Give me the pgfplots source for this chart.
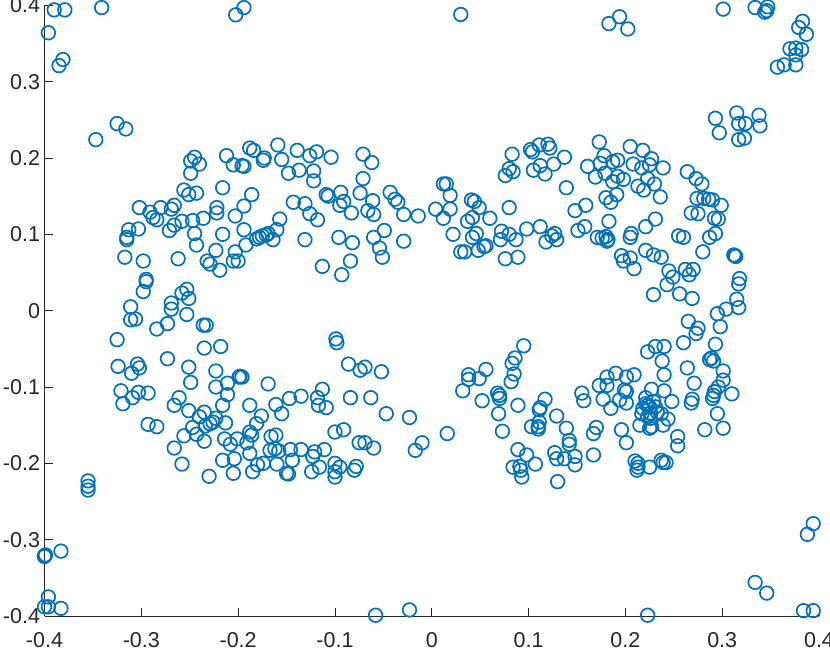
\documentclass[border=0pt]{standalone}
\usepackage{fontspec}
\setmainfont{Liberation Sans}
\usepackage{pgfplots}
\pgfplotsset{compat=1.18}
\definecolor{mblue}{HTML}{0072BD}
\definecolor{axc}{rgb}{0.15,0.15,0.15}
\begin{document}
\begin{tikzpicture}[x=1pt,y=1pt]
\useasboundingbox (0,0) rectangle (830,653);
\begin{axis}[
  at={(44.5pt,37pt)},anchor=south west,
  scale only axis,width=774.5pt,height=610.7pt,
  xmin=-0.4,xmax=0.4,ymin=-0.4,ymax=0.4,
  axis lines=left,axis line style={-,color=axc,line width=0.9pt},
  clip=false,
  xtick={-0.4,-0.3,-0.2,-0.1,0,0.1,0.2,0.3,0.4},
  ytick={-0.4,-0.3,-0.2,-0.1,0,0.1,0.2,0.3,0.4},
  xticklabels={-0.4,-0.3,-0.2,-0.1,0,0.1,0.2,0.3,0.4},
  yticklabels={-0.4,-0.3,-0.2,-0.1,0,0.1,0.2,0.3,0.4},
  tick align=inside,major tick length=8pt,
  tick style={color=axc,line width=0.7pt},
  ticklabel style={font=\fontsize{21.5}{21.5}\selectfont,text=axc},
  xticklabel style={yshift=-13pt},
  yticklabel style={xshift=-1pt},
]
\addplot[only marks,mark=o,mark size=6.8pt,color=mblue,mark options={line width=1.7pt,color=mblue}] table {
x y
-0.245 0.201
-0.249 0.196
-0.240 0.192
-0.249 0.180
-0.212 0.203
-0.205 0.191
-0.196 0.190
-0.194 0.189
-0.188 0.213
-0.184 0.210
-0.174 0.197
-0.173 0.200
-0.256 0.158
-0.251 0.152
-0.243 0.154
-0.216 0.161
-0.186 0.152
-0.302 0.135
-0.291 0.129
-0.280 0.135
-0.266 0.138
-0.269 0.133
-0.288 0.122
-0.284 0.119
-0.222 0.135
-0.222 0.128
-0.194 0.137
-0.203 0.124
-0.303 0.107
-0.313 0.106
-0.315 0.096
-0.315 0.093
-0.271 0.105
-0.266 0.112
-0.258 0.117
-0.247 0.118
-0.236 0.121
-0.245 0.101
-0.243 0.086
-0.216 0.100
-0.194 0.106
-0.317 0.070
-0.298 0.065
-0.262 0.068
-0.295 0.041
-0.223 0.079
-0.232 0.065
-0.229 0.061
-0.219 0.053
-0.203 0.077
-0.205 0.065
-0.200 0.065
-0.192 0.086
-0.159 0.217
-0.139 0.210
-0.155 0.198
-0.126 0.203
-0.119 0.208
-0.104 0.201
-0.148 0.180
-0.137 0.184
-0.122 0.183
-0.122 0.170
-0.071 0.205
-0.062 0.194
-0.071 0.173
-0.074 0.154
-0.109 0.152
-0.107 0.150
-0.094 0.155
-0.091 0.143
-0.095 0.138
-0.143 0.142
-0.131 0.140
-0.126 0.127
-0.118 0.119
-0.083 0.128
-0.061 0.144
-0.066 0.131
-0.060 0.126
-0.043 0.155
-0.038 0.146
-0.035 0.142
-0.029 0.126
-0.014 0.124
0.012 0.166
0.015 0.166
0.019 0.151
0.004 0.133
0.019 0.133
0.012 0.121
0.022 0.100
0.030 0.077
-0.157 0.120
-0.160 0.106
-0.164 0.093
-0.169 0.101
-0.181 0.094
-0.178 0.096
-0.175 0.098
-0.171 0.099
-0.131 0.093
-0.096 0.096
-0.082 0.089
-0.060 0.096
-0.049 0.105
-0.029 0.091
-0.054 0.082
-0.051 0.070
-0.084 0.065
-0.113 0.058
-0.093 0.047
0.041 0.145
0.044 0.143
0.049 0.135
0.060 0.121
0.042 0.122
0.037 0.117
0.046 0.101
0.042 0.096
0.054 0.084
0.048 0.079
0.034 0.077
0.056 0.085
0.080 0.135
0.083 0.205
0.080 0.186
0.084 0.182
0.076 0.177
0.072 0.104
0.080 0.100
0.071 0.093
0.087 0.093
0.098 0.107
0.112 0.110
0.127 0.101
0.124 0.098
0.118 0.090
0.129 0.093
0.076 0.068
0.089 0.070
0.102 0.211
0.104 0.208
0.111 0.217
0.120 0.218
0.122 0.213
0.137 0.201
0.126 0.192
0.112 0.190
0.105 0.184
0.117 0.179
0.139 0.161
0.173 0.221
0.178 0.203
0.161 0.189
0.169 0.175
0.174 0.193
0.179 0.180
0.187 0.195
0.192 0.197
0.187 0.169
0.192 0.176
0.180 0.148
0.185 0.142
0.191 0.152
0.159 0.138
0.148 0.131
0.183 0.117
0.158 0.110
0.151 0.105
0.171 0.096
0.180 0.097
0.182 0.093
0.205 0.215
0.218 0.210
0.227 0.199
0.208 0.192
0.217 0.187
0.225 0.191
0.239 0.187
0.223 0.173
0.230 0.166
0.213 0.163
0.219 0.158
0.236 0.149
0.198 0.172
0.264 0.182
0.273 0.173
0.279 0.166
0.274 0.147
0.281 0.147
0.286 0.146
0.290 0.145
0.299 0.138
0.268 0.128
0.275 0.127
0.292 0.121
0.296 0.120
0.231 0.120
0.221 0.110
0.293 0.101
0.287 0.096
0.280 0.077
0.255 0.098
0.260 0.096
0.312 0.073
0.313 0.072
0.314 0.071
0.206 0.101
0.205 0.096
0.176 0.095
0.181 0.091
0.196 0.072
0.198 0.065
0.205 0.069
0.209 0.055
0.221 0.079
0.229 0.073
0.237 0.070
0.245 0.052
0.249 0.044
0.243 0.034
0.262 0.054
0.270 0.054
0.266 0.047
0.318 0.042
0.317 0.035
0.256 0.022
0.269 0.016
0.229 0.021
0.315 0.015
0.317 0.004
0.304 0.002
0.295 -0.004
-0.295 0.038
-0.298 0.025
-0.311 0.005
-0.311 -0.012
-0.306 -0.011
-0.269 0.010
-0.269 0.002
-0.258 0.023
-0.253 0.028
-0.251 0.016
-0.253 -0.005
-0.273 -0.017
-0.284 -0.024
-0.236 -0.019
-0.233 -0.019
-0.325 -0.038
-0.235 -0.049
-0.218 -0.047
-0.273 -0.063
-0.324 -0.073
-0.304 -0.070
-0.310 -0.082
-0.302 -0.075
-0.251 -0.074
-0.249 -0.094
-0.223 -0.079
-0.223 -0.100
-0.211 -0.095
-0.211 -0.110
-0.199 -0.087
-0.196 -0.087
-0.198 -0.086
-0.169 -0.096
-0.321 -0.105
-0.303 -0.107
-0.309 -0.114
-0.293 -0.108
-0.319 -0.122
-0.261 -0.114
-0.266 -0.124
-0.251 -0.131
-0.216 -0.124
-0.188 -0.124
-0.235 -0.133
-0.240 -0.139
-0.176 -0.138
-0.293 -0.149
-0.284 -0.152
-0.181 -0.148
-0.247 -0.153
-0.243 -0.162
-0.223 -0.141
-0.226 -0.146
-0.229 -0.148
-0.234 -0.151
-0.213 -0.147
-0.256 -0.164
-0.235 -0.171
-0.266 -0.180
-0.258 -0.201
-0.230 -0.217
-0.214 -0.168
-0.208 -0.175
-0.201 -0.168
-0.188 -0.159
-0.186 -0.163
-0.191 -0.173
-0.188 -0.187
-0.204 -0.194
-0.216 -0.196
-0.205 -0.213
-0.185 -0.211
-0.180 -0.202
-0.174 -0.200
-0.167 -0.183
-0.166 -0.165
-0.099 -0.037
-0.098 -0.042
-0.086 -0.070
-0.074 -0.078
-0.069 -0.074
-0.052 -0.080
-0.147 -0.115
-0.135 -0.112
-0.118 -0.114
-0.113 -0.103
-0.117 -0.124
-0.109 -0.127
-0.084 -0.114
-0.063 -0.114
-0.047 -0.135
-0.023 -0.140
-0.161 -0.123
-0.155 -0.135
-0.100 -0.159
-0.091 -0.156
-0.075 -0.173
-0.069 -0.173
-0.060 -0.180
-0.161 -0.163
-0.010 -0.173
-0.017 -0.183
0.016 -0.161
-0.162 -0.181
-0.158 -0.184
-0.146 -0.182
-0.135 -0.182
-0.121 -0.185
-0.111 -0.182
-0.123 -0.191
-0.144 -0.196
-0.160 -0.201
-0.150 -0.213
-0.148 -0.214
-0.124 -0.211
-0.116 -0.205
-0.100 -0.200
-0.095 -0.205
-0.100 -0.211
-0.100 -0.218
-0.078 -0.204
-0.080 -0.209
0.095 -0.046
0.086 -0.062
0.083 -0.069
0.085 -0.083
0.082 -0.093
0.056 -0.077
0.049 -0.089
0.038 -0.084
0.038 -0.090
0.032 -0.105
0.052 -0.118
0.068 -0.108
0.070 -0.111
0.070 -0.115
0.089 -0.124
0.069 -0.135
0.073 -0.158
0.117 -0.116
0.112 -0.127
0.111 -0.130
0.129 -0.138
0.111 -0.146
0.103 -0.152
0.110 -0.152
0.110 -0.155
0.139 -0.154
0.142 -0.170
0.142 -0.175
0.127 -0.186
0.129 -0.194
0.137 -0.194
0.148 -0.191
0.148 -0.202
0.107 -0.201
0.098 -0.189
0.089 -0.182
0.084 -0.205
0.091 -0.204
0.092 -0.209
0.093 -0.218
0.130 -0.224
0.167 -0.189
0.155 -0.108
0.157 -0.118
0.170 -0.153
0.167 -0.161
0.173 -0.098
0.181 -0.087
0.181 -0.098
0.190 -0.082
0.177 -0.116
0.185 -0.128
0.194 -0.117
0.196 -0.156
0.265 -0.014
0.275 -0.023
0.273 -0.030
0.298 -0.021
0.260 -0.042
0.293 -0.044
0.223 -0.054
0.231 -0.047
0.240 -0.047
0.238 -0.066
0.240 -0.084
0.264 -0.075
0.289 -0.062
0.291 -0.066
0.287 -0.064
0.301 -0.079
0.301 -0.091
0.296 -0.100
0.271 -0.095
0.240 -0.105
0.227 -0.103
0.248 -0.119
0.221 -0.114
0.229 -0.119
0.201 -0.106
0.199 -0.104
0.201 -0.087
0.209 -0.084
0.201 -0.121
0.218 -0.128
0.217 -0.135
0.225 -0.126
0.223 -0.139
0.237 -0.135
0.244 -0.142
0.215 -0.150
0.225 -0.154
0.227 -0.152
0.239 -0.150
0.201 -0.173
0.254 -0.165
0.254 -0.177
0.269 -0.116
0.268 -0.121
0.291 -0.111
0.290 -0.115
0.292 -0.106
0.310 -0.109
0.295 -0.135
0.282 -0.156
0.301 -0.154
0.210 -0.197
0.213 -0.200
0.213 -0.205
0.212 -0.209
0.225 -0.205
0.237 -0.196
0.239 -0.199
0.242 -0.199
0.223 -0.124
0.226 -0.134
0.233 -0.133
0.221 -0.122
0.231 -0.126
0.226 -0.141
0.301 0.395
0.334 0.397
0.347 0.398
0.346 0.393
0.344 0.391
0.383 0.379
0.379 0.371
0.387 0.362
0.370 0.343
0.376 0.344
0.382 0.342
0.376 0.335
0.376 0.322
0.364 0.322
0.357 0.319
0.315 0.259
0.338 0.256
0.293 0.252
0.317 0.245
0.324 0.245
0.339 0.242
0.297 0.233
0.323 0.226
0.317 0.224
-0.390 0.394
-0.379 0.394
-0.341 0.397
-0.396 0.364
-0.381 0.329
-0.385 0.321
-0.325 0.245
-0.316 0.238
-0.347 0.224
-0.383 -0.315
-0.399 -0.320
-0.400 -0.321
-0.400 -0.322
-0.396 -0.375
-0.400 -0.388
-0.396 -0.388
-0.383 -0.390
-0.355 -0.223
-0.355 -0.230
-0.355 -0.235
-0.2025 0.3875
-0.194 0.397
0.030 0.388
0.183 0.376
0.194 0.385
0.2025 0.369
0.394 -0.279
0.388 -0.293
0.334 -0.356
0.346 -0.370
0.384 -0.393
0.394 -0.393
-0.058 -0.399
-0.023 -0.392
0.223 -0.399
};
\end{axis}
\end{tikzpicture}
\end{document}
